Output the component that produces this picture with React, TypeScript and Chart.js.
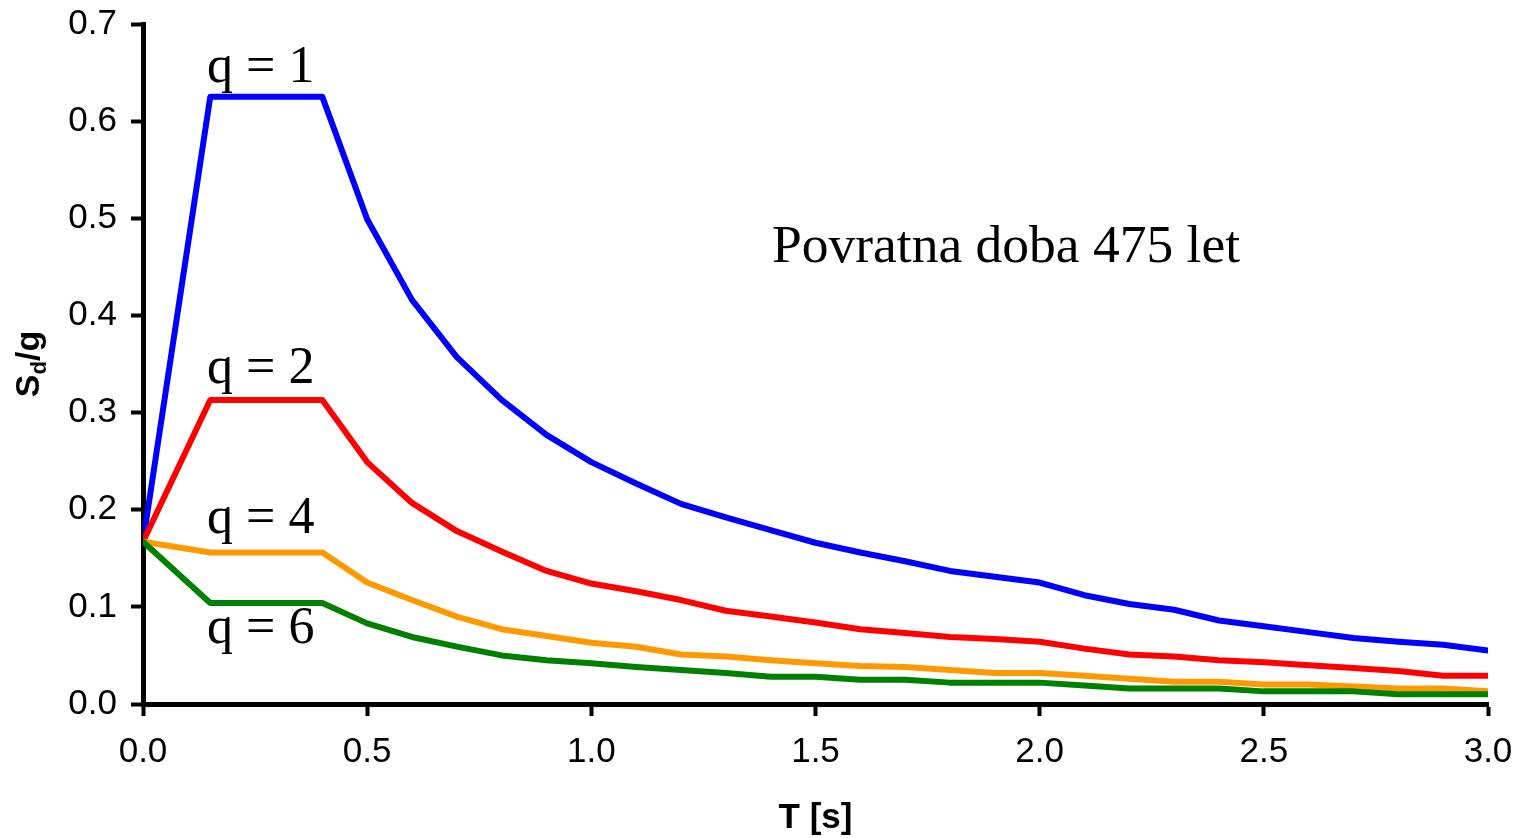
import React, { useEffect, useRef } from "react";
import { Chart, registerables } from "chart.js";

Chart.register(...registerables);

// Period T [s]
const periods = [0, 0.15, 0.4, 0.5, 0.6, 0.7, 0.8, 0.9, 1.0, 1.1, 1.2, 1.3, 1.4, 1.5, 1.6, 1.7, 1.8, 1.9, 2.0, 2.1, 2.2, 2.3, 2.4, 2.5, 2.6, 2.7, 2.8, 2.9, 3.0];

// Sd/g for each behaviour factor q
const q1Values = [0.167, 0.625, 0.625, 0.499, 0.416, 0.357, 0.313, 0.277, 0.249, 0.227, 0.206, 0.192, 0.179, 0.166, 0.156, 0.147, 0.137, 0.131, 0.125, 0.112, 0.103, 0.097, 0.086, 0.080, 0.074, 0.068, 0.064, 0.061, 0.055];
const q2Values = [0.167, 0.313, 0.313, 0.249, 0.207, 0.178, 0.157, 0.137, 0.124, 0.116, 0.107, 0.096, 0.090, 0.084, 0.077, 0.073, 0.069, 0.067, 0.064, 0.057, 0.051, 0.049, 0.045, 0.043, 0.040, 0.037, 0.034, 0.029, 0.029];
const q4Values = [0.167, 0.156, 0.156, 0.125, 0.107, 0.090, 0.077, 0.070, 0.063, 0.059, 0.051, 0.049, 0.045, 0.042, 0.039, 0.038, 0.035, 0.032, 0.032, 0.029, 0.026, 0.023, 0.023, 0.020, 0.020, 0.018, 0.016, 0.016, 0.013];
const q6Values = [0.167, 0.104, 0.104, 0.083, 0.069, 0.059, 0.050, 0.045, 0.042, 0.038, 0.035, 0.032, 0.028, 0.028, 0.025, 0.025, 0.022, 0.022, 0.022, 0.019, 0.016, 0.016, 0.016, 0.013, 0.013, 0.013, 0.010, 0.010, 0.010];

const seriesNames = ["q = 1", "q = 2", "q = 4", "q = 6"];
const seriesColors = ["#0000FF", "#FF0000", "#FF9900", "#008000"];

// Axis ranges / ticks
const xMin = 0, xMax = 3.0, xStep = 0.5;
const yMin = 0, yMax = 0.7, yStep = 0.1;
const xTitle = "T [s]";
const yTitleMain = "S";
const yTitleSub = "d";
const yTitleRest = "/g";

// Text annotations anchored in data coordinates [T, Sd/g]
const noteTexts = ["q = 1", "q = 2", "q = 4", "q = 6", "Povratna doba 475 let"];
const noteAnchors = [
  [0.143, 0.640],
  [0.143, 0.330],
  [0.143, 0.176],
  [0.143, 0.063],
  [1.403, 0.455],
];
const noteSizes = [52, 52, 52, 52, 53.5];

const sansFont = "'Liberation Sans', Arial, sans-serif";
const serifFont = "'Liberation Serif', 'Times New Roman', serif";

const textPlugin = {
  id: "textPlugin",
  afterDraw(chart: any) {
    const { ctx, chartArea, scales } = chart;
    const xs = scales.x;
    const ys = scales.y;
    ctx.save();
    // annotations
    ctx.fillStyle = "#000";
    ctx.textAlign = "left";
    ctx.textBaseline = "alphabetic";
    noteTexts.forEach((t, i) => {
      ctx.font = `${noteSizes[i]}px ${serifFont}`;
      const px = xs.getPixelForValue(noteAnchors[i][0]);
      const py = ys.getPixelForValue(noteAnchors[i][1]);
      ctx.fillText(t, px, py);
    });
    // x title
    ctx.font = `bold 35px ${sansFont}`;
    ctx.textAlign = "center";
    ctx.textBaseline = "middle";
    ctx.fillText(xTitle, (chartArea.left + chartArea.right) / 2, chart.height - 20);
    // y title with subscript
    const cy = (chartArea.top + chartArea.bottom) / 2;
    ctx.translate(39, cy);
    ctx.rotate(-Math.PI / 2);
    ctx.textAlign = "left";
    ctx.textBaseline = "alphabetic";
    const mainFont = `bold 34px ${sansFont}`;
    const subFont = `bold 22px ${sansFont}`;
    ctx.font = mainFont;
    const w1 = ctx.measureText(yTitleMain).width;
    const w3 = ctx.measureText(yTitleRest).width;
    ctx.font = subFont;
    const w2 = ctx.measureText(yTitleSub).width;
    let x0 = -(w1 + w2 + w3) / 2;
    ctx.font = mainFont;
    ctx.fillText(yTitleMain, x0, 0);
    x0 += w1;
    ctx.font = subFont;
    ctx.fillText(yTitleSub, x0, 7);
    x0 += w2;
    ctx.font = mainFont;
    ctx.fillText(yTitleRest, x0, 0);
    ctx.restore();
  },
};

export default function App() {
  const canvasRef = useRef<HTMLCanvasElement | null>(null);

  useEffect(() => {
    if (!canvasRef.current) return;
    const seriesValues = [q1Values, q2Values, q4Values, q6Values];
    const chart = new Chart(canvasRef.current, {
      type: "line",
      data: {
        datasets: seriesValues.map((vals, i) => ({
          label: seriesNames[i],
          data: periods.map((t, j) => ({ x: t, y: vals[j] })),
          borderColor: seriesColors[i],
          backgroundColor: seriesColors[i],
          borderWidth: 6,
          pointRadius: 0,
          tension: 0,
          fill: false,
          borderCapStyle: "round" as const,
          borderJoinStyle: "round" as const,
          order: 3 - i,
        })),
      },
      options: {
        animation: false,
        responsive: false,
        maintainAspectRatio: false,
        layout: { padding: { left: 0, top: 24, right: 31, bottom: 0 } },
        plugins: {
          legend: { display: false },
          tooltip: { enabled: false },
          title: { display: false },
        },
        scales: {
          x: {
            type: "linear",
            min: xMin,
            max: xMax,
            afterFit: (s: any) => { s.height = 134; s.paddingLeft = 0; s.paddingRight = 0; },
            border: { display: true, color: "#000", width: 5 },
            grid: { drawOnChartArea: false, drawTicks: true, tickLength: 12, tickWidth: 4, tickColor: "#000", color: "#000" },
            ticks: {
              stepSize: xStep,
              padding: 15,
              color: "#000",
              font: { family: sansFont, size: 35 },
              maxRotation: 0,
              callback: (v: any) => Number(v).toFixed(1),
            },
          },
          y: {
            type: "linear",
            min: yMin,
            max: yMax,
            afterFit: (s: any) => { s.width = 143; s.paddingTop = 0; s.paddingBottom = 0; },
            border: { display: true, color: "#000", width: 5 },
            grid: { drawOnChartArea: false, drawTicks: true, tickLength: 12, tickWidth: 4, tickColor: "#000", color: "#000" },
            ticks: {
              stepSize: yStep,
              padding: 14,
              color: "#000",
              font: { family: sansFont, size: 35 },
              callback: (v: any) => Number(v).toFixed(1),
            },
          },
        },
      },
      plugins: [textPlugin],
    });
    return () => chart.destroy();
  }, []);

  return (
    <div style={{ position: "absolute", left: 0, top: 0, width: 1519, height: 838, background: "#fff" }}>
      <canvas ref={canvasRef} width={1519} height={838} style={{ display: "block", width: 1519, height: 838 }} />
    </div>
  );
}
